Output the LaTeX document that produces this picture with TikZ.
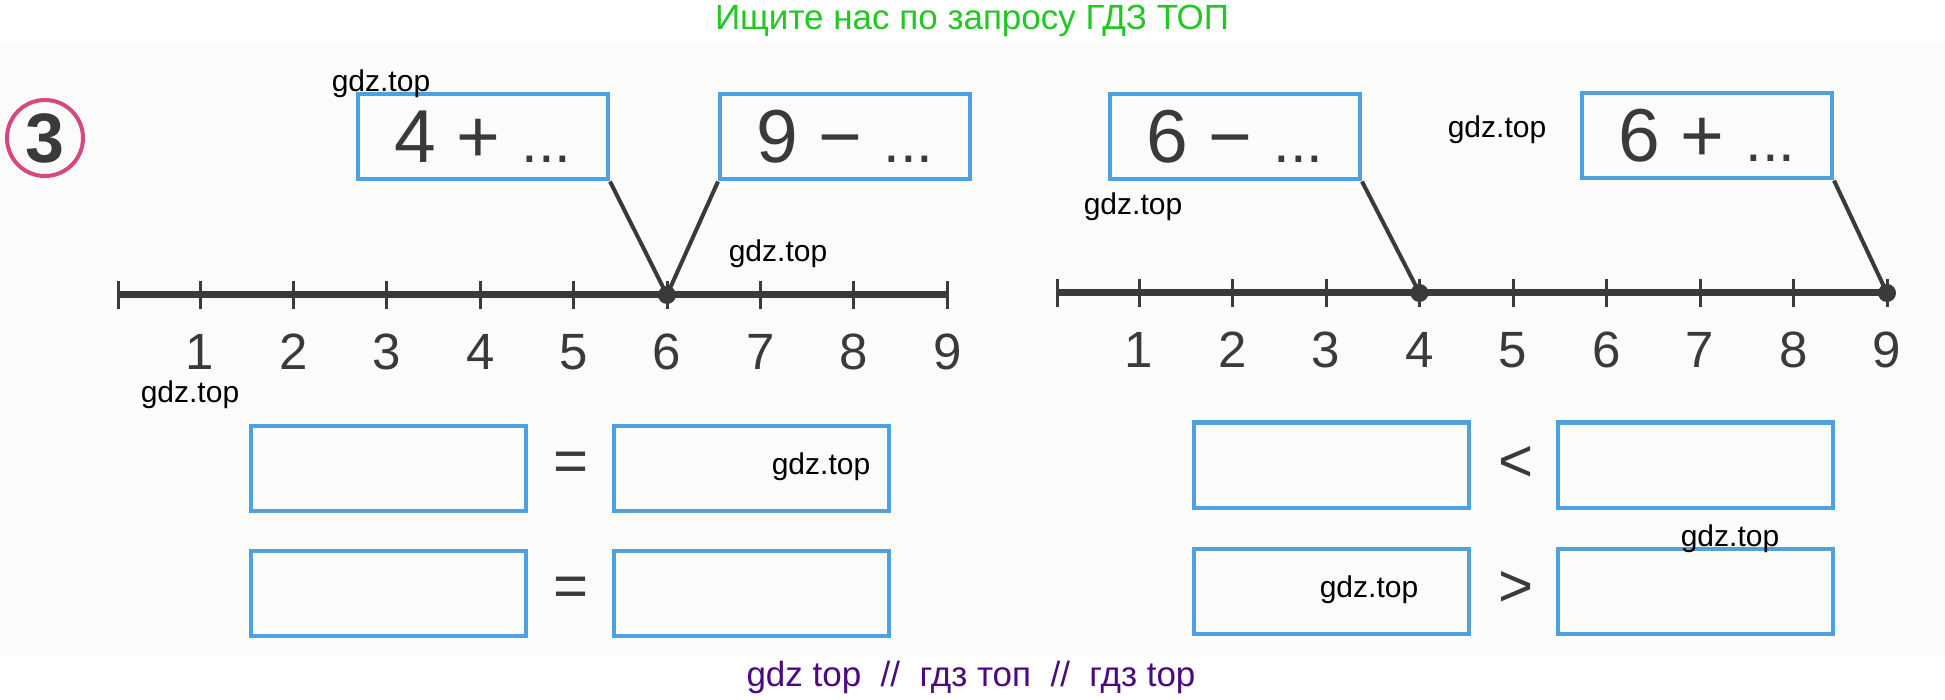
\documentclass[tikz,border=0pt]{standalone}
\usepackage{fontspec}
\setmainfont{Liberation Sans}

\definecolor{boxblue}{RGB}{78,161,222}
\definecolor{inkgray}{RGB}{58,58,58}
\definecolor{badgepink}{RGB}{214,72,128}
\definecolor{titlegreen}{RGB}{34,200,34}
\definecolor{footpurple}{RGB}{76,10,130}
\definecolor{paper}{RGB}{251,251,250}

\begin{document}
\begin{tikzpicture}[
  x=0.5pt, y=-0.5pt,
  task/.style={rectangle,draw=boxblue,line width=2pt,minimum width=125pt,minimum height=42.5pt,
    inner sep=0pt,text=inkgray,font=\fontsize{37.5}{40}\selectfont},
  answer/.style={rectangle,draw=boxblue,line width=2pt,minimum width=137.5pt,minimum height=42.5pt,inner sep=0pt},
  relsign/.style={text=inkgray,inner sep=0pt,font=\fontsize{30}{32}\selectfont},
  numlbl/.style={text=inkgray,inner sep=0pt,font=\fontsize{25.5}{27}\selectfont},
  dot/.style={circle,fill=inkgray,inner sep=0pt,minimum size=9pt},
  wmark/.style={text=black,inner sep=0pt,font=\fontsize{15}{17}\selectfont}
]

\useasboundingbox (0,0) rectangle (1945,700);
\fill[white] (0,0) rectangle (1945,700);
\fill[paper] (0,42) rectangle (1945,655);

% exercise number
\node[circle,draw=badgepink,line width=2pt,minimum size=38pt,inner sep=0pt,
  text=inkgray,font=\fontsize{35}{37}\selectfont\bfseries] (num) at (45,138) {3};

% left number line
\draw[inkgray,line width=3.5pt] (118,295) -- (947,295);
\draw[inkgray,line width=1.5pt] (118,281) -- (118,309);
\foreach \k in {1,...,9} {
  \coordinate (L\k) at ({200+(\k-1)*93.4},295);
  \draw[inkgray,line width=1.5pt] ({200+(\k-1)*93.4},281) -- ({200+(\k-1)*93.4},309);
  \node[numlbl] (la\k) at ({200+(\k-1)*93.4},352) {\k};
}
\node[dot] (d6) at (L6) {};

% right number line
\draw[inkgray,line width=3.5pt] (1057,293) -- (1887,293);
\draw[inkgray,line width=1.5pt] (1057,279) -- (1057,307);
\foreach \k in {1,...,9} {
  \coordinate (R\k) at ({1139+(\k-1)*93.5},293);
  \draw[inkgray,line width=1.5pt] ({1139+(\k-1)*93.5},279) -- ({1139+(\k-1)*93.5},307);
  \node[numlbl] (lb\k) at ({1139+(\k-1)*93.5},350) {\k};
}
\node[dot] (e4) at (R4) {};
\node[dot] (e9) at (R9) {};

% expressions
\node[task] (t1) at (483,137) {4 + {\fontsize{30}{32}\selectfont...}};
\node[task] (t2) at (845,137) {9 − {\fontsize{30}{32}\selectfont...}};
\node[task] (t3) at (1235,137) {6 − {\fontsize{30}{32}\selectfont...}};
\node[task] (t4) at (1707,136) {6 + {\fontsize{30}{32}\selectfont...}};

\draw[inkgray,line width=2pt] (t1.south east) -- (d6.center);
\draw[inkgray,line width=2pt] (t2.south west) -- (d6.center);
\draw[inkgray,line width=2pt] (t3.south east) -- (e4.center);
\draw[inkgray,line width=2pt] (t4.south east) -- (e9.center);

% answer boxes
\node[answer] (a1) at (388,468) {};
\node[answer] (b1) at (751,468) {};
\node[answer] (a2) at (388,593) {};
\node[answer] (b2) at (751,593) {};
\node[relsign] (eq1) at (571,467) {=};
\node[relsign] (eq2) at (571,592) {=};

\node[answer] (c1) at (1331,465) {};
\node[answer] (f1) at (1695,465) {};
\node[answer] (c2) at (1331,591) {};
\node[answer] (f2) at (1695,591) {};
\node[relsign] (lt) at (1516,464) {<};
\node[relsign] (gt) at (1516,589) {>};

% watermarks
\foreach \x/\y [count=\i] in {381/84,778/254,1133/207,1497/130,190/395,821/467,1730/539,1369/590}
  \node[wmark] (gdz\i) at (\x,\y) {gdz.top};

\node[text=titlegreen,inner sep=0pt,font=\fontsize{17.5}{19}\selectfont] (title) at (972,21)
  {Ищите нас по запросу ГДЗ ТОП};
\node[text=footpurple,inner sep=0pt,font=\fontsize{17.5}{19}\selectfont] (footer) at (971,677)
  {gdz top\ \ //\ \ гдз топ\ \ //\ \ гдз top};

\end{tikzpicture}
\end{document}
